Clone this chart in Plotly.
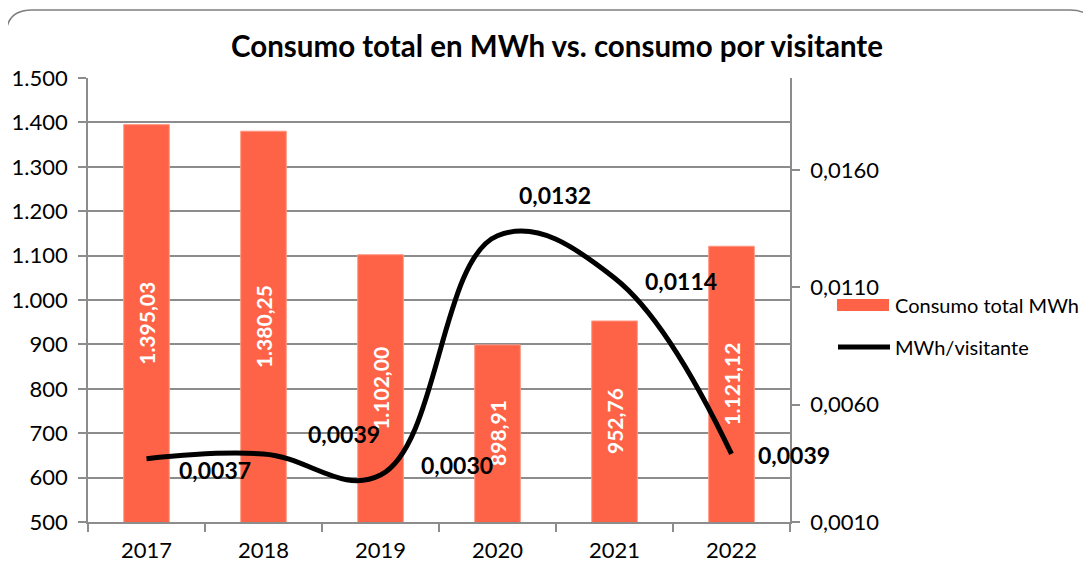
import plotly.graph_objects as go

years = ["2017", "2018", "2019", "2020", "2021", "2022"]
consumo_total = [1395.03, 1380.25, 1102.00, 898.91, 952.76, 1121.12]
mwh_visitante = [0.0037, 0.0039, 0.0030, 0.0132, 0.0114, 0.0039]
left_ticks = [500, 600, 700, 800, 900, 1000, 1100, 1200, 1300, 1400, 1500]
right_ticks = [0.0010, 0.0060, 0.0110, 0.0160]
axis_min = 500

# page offset (browser body margin) -> work in reference pixel coords
OFF = 8
W, H = 1091 - 2 * OFF, 576 - 2 * OFF
# plot area in reference pixels
PL, PR, PT, PB = 88, 790, 78, 522
ML, MT = PL - OFF, PT - OFF
MR, MB = W - (PR - OFF), H - (PB - OFF)
PW, PH = PR - PL, PB - PT

def pxf(x):
    return (x - PL) / PW

def pyf(y):
    return (PB - y) / PH

def px(x):
    return f"{pxf(x):.5f}"

def py(y):
    return f"{pyf(y):.5f}"

FONT = "Lato"
BAR_COLOR = "#FF6347"
GRID = "#8C8C8C"

fig = go.Figure()
fig.add_trace(go.Bar(
    x=years, y=consumo_total, name="Consumo total MWh",
    marker=dict(color=BAR_COLOR, line=dict(color="#FF9A85", width=1)),
    width=0.39, showlegend=False,
))
fig.add_trace(go.Scatter(
    x=years, y=mwh_visitante, name="MWh/visitante", yaxis="y2",
    mode="lines", line=dict(color="black", width=5, shape="spline", smoothing=1.15),
    showlegend=False,
))

# bar value labels, centred in the visible part of each bar
for i, v in enumerate(consumo_total):
    txt = f"{v:,.2f}".replace(",", "X").replace(".", ",").replace("X", ".")
    fig.add_annotation(
        x=i, y=(v + axis_min) / 2, xref="x", yref="y", text=f"<b>{txt}</b>", textangle=-90,
        showarrow=False, font=dict(size=21, color="white", family=FONT),
    )

# data labels for the line (offsets in pixels)
offsets = [(68, -11), (80, 20), (76, 10), (57, 41), (66, -3), (62, -1)]
for i, (v, (dx, dy)) in enumerate(zip(mwh_visitante, offsets)):
    fig.add_annotation(
        x=i, y=v, xref="x", yref="y2", text=f"<b>{v:.4f}</b>".replace(".", ","),
        showarrow=False, xshift=dx, yshift=dy,
        font=dict(size=23, color="black", family=FONT),
    )

# legend (drawn manually to match swatch sizes)
fig.add_shape(type="rect", xref="paper", yref="paper",
              x0=pxf(837), x1=pxf(889), y0=pyf(311), y1=pyf(299),
              fillcolor=BAR_COLOR, line=dict(width=0))
fig.add_shape(type="line", xref="paper", yref="paper",
              x0=pxf(838), x1=pxf(890), y0=pyf(347), y1=pyf(347),
              line=dict(color="black", width=5))
for label, yy in [("Consumo total MWh", 305), ("MWh/visitante", 347)]:
    fig.add_annotation(x=pxf(893), y=pyf(yy), xref="paper", yref="paper",
                       text=label, showarrow=False, xanchor="left", yanchor="middle",
                       font=dict(size=20, color="black", family=FONT))

# rounded outer border
x0, y0, x1, y1, r = 6, 10, 1096, 586, 26
path = (
    f"M {px(x0)},{py(y0 + r)} "
    f"Q {px(x0)},{py(y0)} {px(x0 + r)},{py(y0)} "
    f"L {px(x1 - r)},{py(y0)} "
    f"Q {px(x1)},{py(y0)} {px(x1)},{py(y0 + r)} "
    f"L {px(x1)},{py(y1 - r)} "
    f"Q {px(x1)},{py(y1)} {px(x1 - r)},{py(y1)} "
    f"L {px(x0 + r)},{py(y1)} "
    f"Q {px(x0)},{py(y1)} {px(x0)},{py(y1 - r)} Z"
)
fig.add_shape(type="path", path=path, xref="paper", yref="paper",
              line=dict(color="#7F7F7F", width=1.5), layer="below")

fig.update_layout(
    width=W, height=H,
    margin=dict(l=ML, r=MR, t=MT, b=MB, autoexpand=False),
    paper_bgcolor="white", plot_bgcolor="white",
    separators=",.",
    font=dict(family=FONT, color="black", size=18),
    title=dict(text="<b>Consumo total en MWh vs. consumo por visitante</b>",
               x=(557 - OFF) / W, xanchor="center", y=1 - (47 - OFF) / H, yanchor="middle",
               font=dict(size=29.5, family=FONT, color="black")),
    showlegend=False,
    xaxis=dict(type="category", range=[-0.5, 5.5], showline=True, linecolor=GRID,
               linewidth=1.5, ticks="outside", tickson="boundaries", ticklen=8,
               tickcolor=GRID, tickwidth=1.5, showgrid=False, tickfont=dict(size=22),
               ticklabelstandoff=8,
               categoryorder="array", categoryarray=years),
    yaxis=dict(range=[axis_min, 1500], tickvals=left_ticks, tickformat=",d",
               showline=True, linecolor=GRID, linewidth=1.5,
               ticks="outside", ticklen=8, tickcolor=GRID, tickwidth=1.5,
               showgrid=True, gridcolor=GRID, gridwidth=1.5, zeroline=False,
               tickfont=dict(size=22), ticklabelstandoff=6),
    yaxis2=dict(overlaying="y", side="right", range=[0.0010, 0.01992],
                tickvals=right_ticks, tickformat=".4f", showgrid=False,
                showline=True, linecolor=GRID, linewidth=1.5,
                ticks="outside", ticklen=8, tickcolor=GRID, tickwidth=1.5,
                zeroline=False, tickfont=dict(size=22), ticklabelstandoff=6),
)

fig.write_html("out.html")
